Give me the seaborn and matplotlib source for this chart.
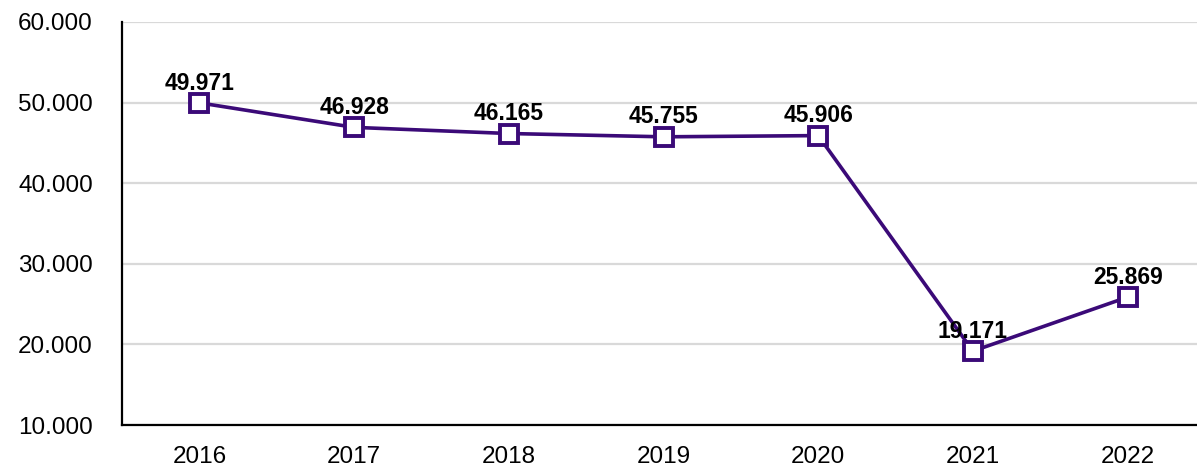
import matplotlib
matplotlib.use("Agg")
import matplotlib.pyplot as plt
import seaborn as sns
import pandas as pd

years = ["2016", "2017", "2018", "2019", "2020", "2021", "2022"]
values = [49.971, 46.928, 46.165, 45.755, 45.906, 19.171, 25.869]
yticks = [10, 20, 30, 40, 50, 60]

sns.set_style("white")
plt.rcParams["font.family"] = ["Liberation Sans", "DejaVu Sans"]

df = pd.DataFrame({"year": years, "value": values})
df["pos"] = range(len(df))

color = "#3b0a78"

fig = plt.figure(figsize=(11.97, 4.66), dpi=100)
ax = fig.add_axes([122 / 1197, 41 / 466, 1083 / 1197, 403 / 466])

sns.lineplot(data=df, x="pos", y="value", ax=ax, color=color, linewidth=2.6,
             marker="s", markersize=13, markerfacecolor="white",
             markeredgecolor=color, markeredgewidth=2.8, zorder=3)

for x, v in zip(df["pos"], df["value"]):
    ax.annotate(f"{v:.3f}", (x, v), xytext=(0, 6), textcoords="offset points",
                ha="center", va="bottom", fontsize=16.5, fontweight="bold",
                color="black", zorder=4)

ax.set_xlim(-0.5, 6.5)
ax.set_ylim(10, 60)
ax.set_xticks(df["pos"])
ax.set_xticklabels(years)
ax.set_yticks(yticks)
ax.set_yticklabels([f"{t:.3f}" for t in yticks])
ax.set_xlabel("")
ax.set_ylabel("")

ax.grid(axis="y", color="#d9d9d9", linewidth=1.6)
ax.grid(axis="x", visible=False)
ax.set_axisbelow(True)
for s in ["top", "right"]:
    ax.spines[s].set_visible(False)
for s in ["left", "bottom"]:
    ax.spines[s].set_color("black")
    ax.spines[s].set_linewidth(1.6)

ax.tick_params(axis="x", direction="in", length=12, width=1.2, color="black",
               labelsize=17.5, labelcolor="black", pad=15)
ax.tick_params(axis="y", length=0, labelsize=17.5, labelcolor="black", pad=21)

fig.savefig("out.png", dpi=100)
